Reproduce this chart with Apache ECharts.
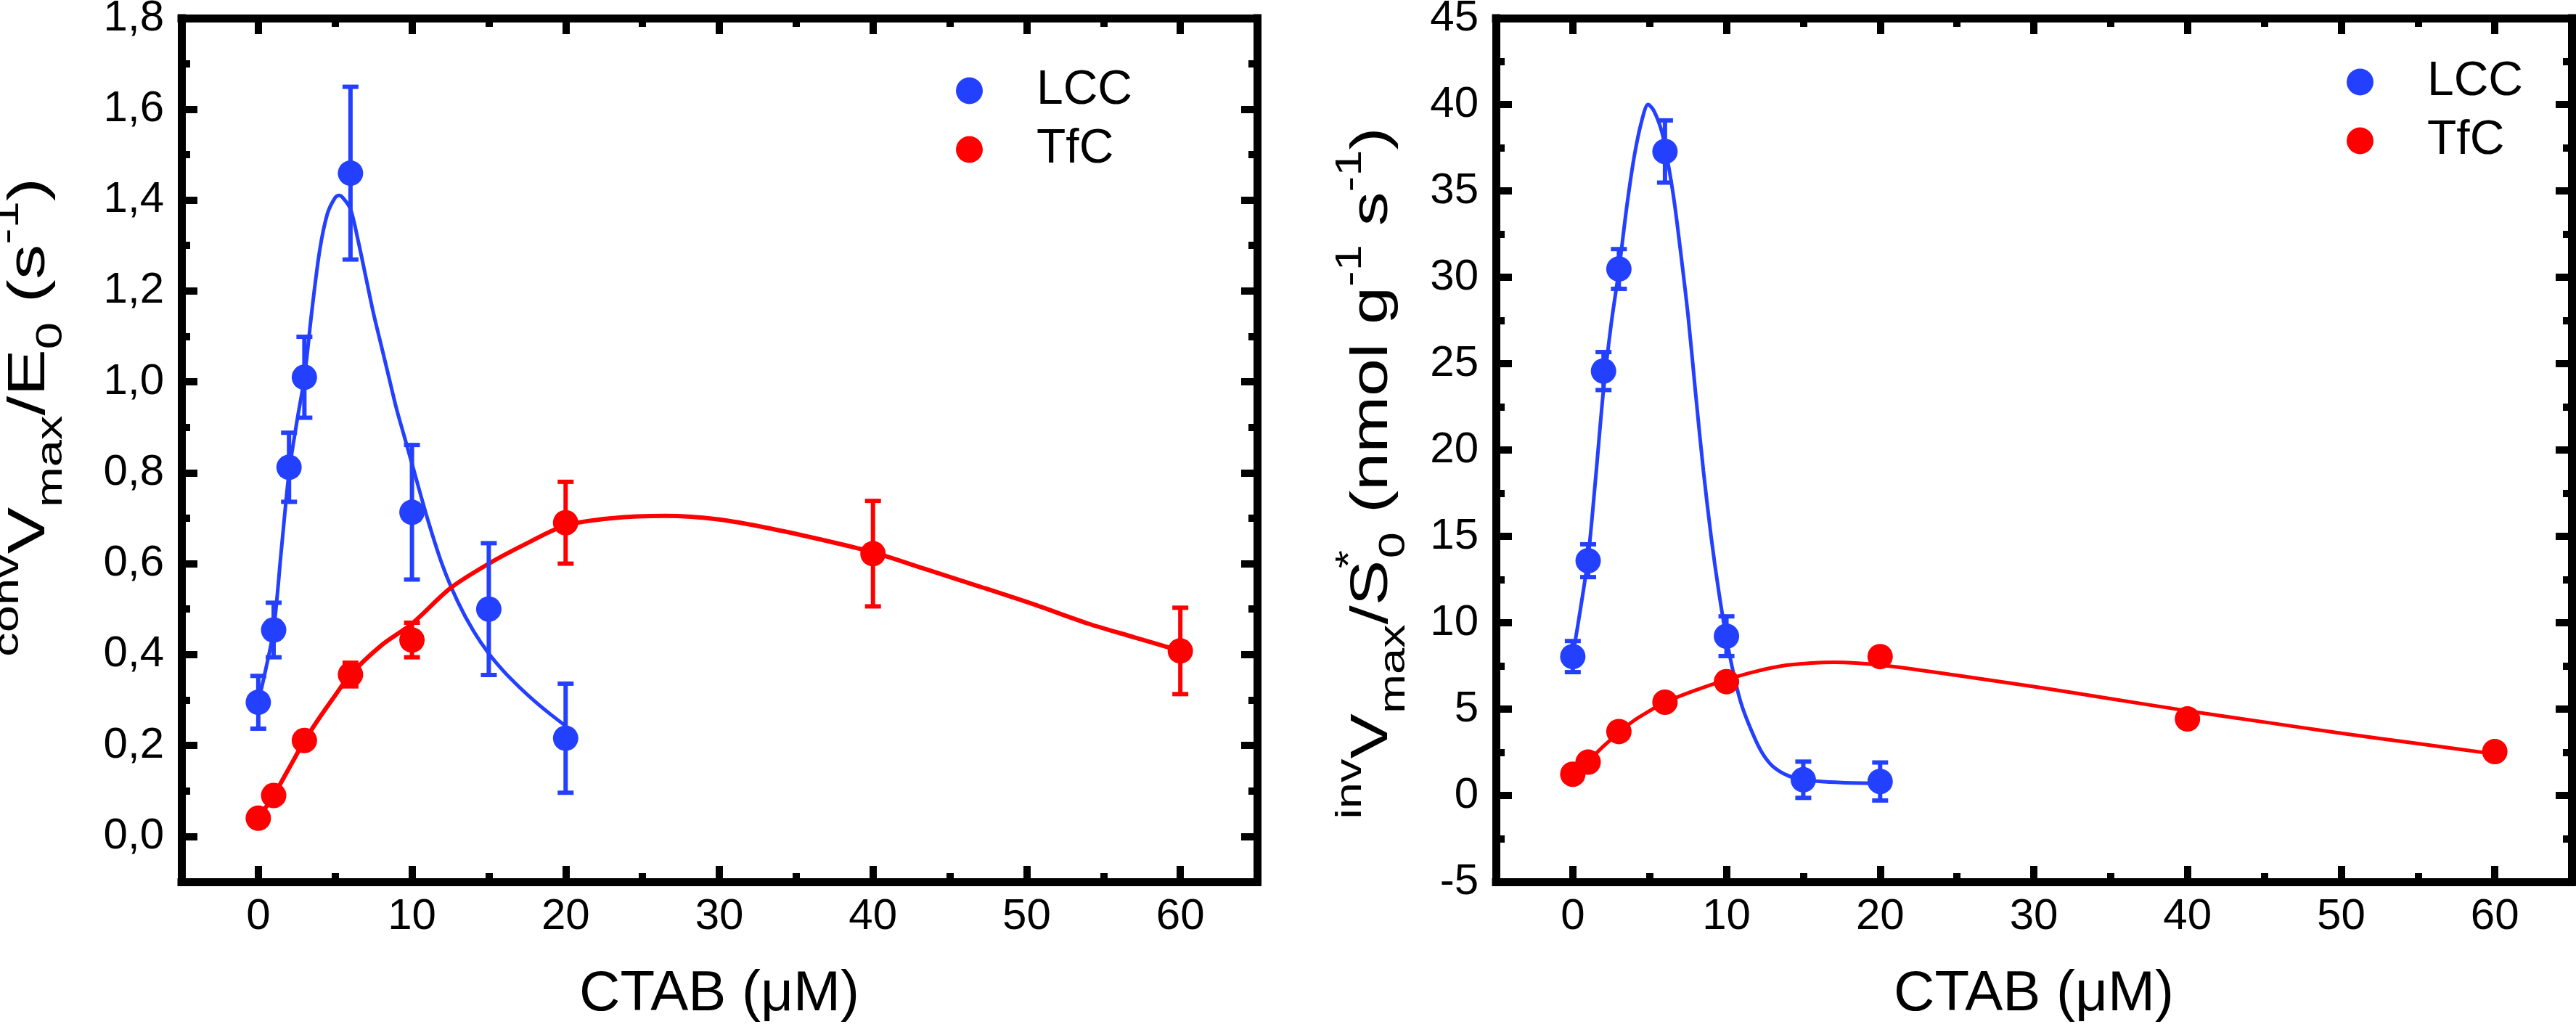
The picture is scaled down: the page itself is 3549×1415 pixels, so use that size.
<!DOCTYPE html>
<html>
<head>
<meta charset="utf-8">
<title>CTAB – LCC / TfC</title>
<script src="https://cdn.jsdelivr.net/npm/echarts@6.0.0/dist/echarts.min.js"></script>
<style>
  html, body { margin: 0; padding: 0; background: #fff; }
  #chart { width: 3549px; height: 1415px; }
</style>
</head>
<body>
<div id="chart"></div>
<script>
// ---- data ----
const ctabLCC = [0, 1, 2, 3, 6, 10, 15, 20];
const ctabTfC = [0, 1, 3, 6, 10, 20, 40, 60];

// left panel: convVmax/E0 (s-1)
const convLCC = [0.295, 0.454, 0.812, 1.010, 1.459, 0.713, 0.500, 0.216];
const convLCCErr = [0.058, 0.060, 0.076, 0.089, 0.190, 0.148, 0.145, 0.120];
const convTfC = [0.040, 0.090, 0.211, 0.356, 0.432, 0.690, 0.622, 0.408];
const convTfCErr = [0, 0, 0, 0.026, 0.038, 0.090, 0.116, 0.095];

// right panel: invVmax/S*0 (nmol g-1 s-1)
const invLCC = [8.04, 13.59, 24.57, 30.48, 37.28, 9.22, 0.91, 0.81];
const invLCCErr = [0.90, 0.95, 1.10, 1.15, 1.80, 1.15, 1.05, 1.10];
const invTfC = [1.23, 1.93, 3.70, 5.40, 6.59, 8.04, 4.43, 2.54];

// fitted curves
const convFitLCCx = [0, 0.5, 1, 1.5, 2, 2.5, 3, 3.5, 4, 4.5, 5, 5.25, 5.5, 6, 6.5, 7, 7.5, 8, 8.5, 9, 9.5, 10, 11, 12, 13, 14, 15, 16, 17, 18, 19, 20];
const convFitLCCy = [0.295, 0.37, 0.455, 0.63, 0.80, 0.91, 1.01, 1.16, 1.29, 1.37, 1.405, 1.41, 1.405, 1.38, 1.31, 1.23, 1.15, 1.08, 1.01, 0.94, 0.88, 0.82, 0.70, 0.595, 0.515, 0.452, 0.402, 0.362, 0.328, 0.297, 0.269, 0.243];
const convFitTfCx = [0, 1, 2, 3, 4, 5, 6, 8, 10, 12.5, 15, 17.5, 20, 23, 26.5, 30, 33.5, 37, 40, 43.5, 47, 50.5, 54, 57, 60];
const convFitTfCy = [0.040, 0.090, 0.150, 0.210, 0.262, 0.310, 0.356, 0.420, 0.468, 0.546, 0.600, 0.645, 0.684, 0.700, 0.705, 0.697, 0.676, 0.650, 0.625, 0.587, 0.549, 0.510, 0.468, 0.438, 0.408];
const invFitLCCx = [0, 0.5, 1, 1.5, 2, 2.5, 3, 3.5, 4, 4.5, 4.9, 5.3, 5.8, 6.2, 6.6, 7, 7.5, 8, 8.5, 9, 9.5, 10, 10.5, 11, 11.7, 12.3, 13, 14, 15, 16, 17.5, 20];
const invFitLCCy = [8.1, 10.8, 13.8, 18.5, 23.5, 27.3, 30.4, 34.0, 37.0, 39.1, 40.0, 39.6, 38.4, 36.6, 34.4, 31.6, 27.8, 23.2, 18.8, 15.0, 11.8, 9.1, 6.9, 5.2, 3.6, 2.5, 1.7, 1.15, 0.92, 0.82, 0.75, 0.70];
const invFitTfCx = [0, 1, 2, 3, 4, 5, 6, 8, 10, 12, 14, 17, 20, 25, 30, 35, 40, 45, 50, 55, 60];
const invFitTfCy = [1.23, 2.0, 2.85, 3.65, 4.35, 4.9, 5.4, 6.1, 6.7, 7.2, 7.55, 7.71, 7.55, 6.95, 6.3, 5.6, 4.9, 4.25, 3.6, 3.0, 2.4];

// tick positions
const xMajor = [0, 10, 20, 30, 40, 50, 60];
const xMinor = [5, 15, 25, 35, 45, 55];
const convMajor = [0, 0.2, 0.4, 0.6, 0.8, 1.0, 1.2, 1.4, 1.6, 1.8];
const convMinor = [0.1, 0.3, 0.5, 0.7, 0.9, 1.1, 1.3, 1.5, 1.7];
const invMajor = [-5, 0, 5, 10, 15, 20, 25, 30, 35, 40, 45];
const invMinor = [-2.5, 2.5, 7.5, 12.5, 17.5, 22.5, 27.5, 32.5, 37.5, 42.5];

const BLUE = "#2340ff";
const RED = "#ff0000";
const FONT = "'Liberation Sans', Arial, sans-serif";

const zip = (xs, ys) => xs.map((x, i) => [x, ys[i]]);
const withErr = (xs, ys, es) =>
  xs.map((x, i) => [x, ys[i] - es[i], ys[i] + es[i]]).filter((d, i) => es[i] > 0);

// one axis of the frame; major axes carry the line, minor ones only short ticks
function frameAxis(gridIndex, position, min, max, ticks, major, extra) {
  return Object.assign({
    type: "value",
    gridIndex,
    position,
    min,
    max,
    axisLine: {
      show: major,
      onZero: false,
      lineStyle: { color: "#000", width: 11, cap: "square" },
    },
    axisTick: {
      show: true,
      inside: true,
      length: major ? 22 : 12,
      customValues: ticks,
      lineStyle: { color: "#000", width: 10 },
    },
    axisLabel: { show: false },
    splitLine: { show: false },
  }, extra || {});
}

function xAxes(gridIndex) {
  return [
    frameAxis(gridIndex, "bottom", -5, 65, xMajor, true, {
      axisLabel: {
        show: true,
        customValues: xMajor,
        margin: 18,
        fontSize: 60,
        fontFamily: FONT,
        color: "#000",
      },
      name: "CTAB (μM)",
      nameLocation: "middle",
      nameGap: 116,
      nameTextStyle: { fontSize: 78, fontFamily: FONT, color: "#000" },
    }),
    frameAxis(gridIndex, "bottom", -5, 65, xMinor, false),
    frameAxis(gridIndex, "top", -5, 65, xMajor, true),
    frameAxis(gridIndex, "top", -5, 65, xMinor, false),
  ];
}

function yAxes(gridIndex, min, max, major, minor, fmt) {
  return [
    frameAxis(gridIndex, "left", min, max, major, true, {
      axisLabel: {
        show: true,
        customValues: major,
        margin: 24,
        fontSize: 60,
        fontFamily: FONT,
        color: "#000",
        formatter: fmt,
      },
    }),
    frameAxis(gridIndex, "left", min, max, minor, false),
    frameAxis(gridIndex, "right", min, max, major, true),
    frameAxis(gridIndex, "right", min, max, minor, false),
  ];
}

const errBars = (name, data, color, xi, yi) => ({
  name,
  type: "custom",
  xAxisIndex: xi,
  yAxisIndex: yi,
  z: 3,
  encode: { x: 0, y: [1, 2] },
  data,
  renderItem(params, api) {
    const lo = api.coord([api.value(0), api.value(1)]);
    const hi = api.coord([api.value(0), api.value(2)]);
    const hw = 11;
    const st = { stroke: color, lineWidth: 6 };
    return {
      type: "group",
      children: [
        { type: "line", shape: { x1: lo[0], y1: lo[1], x2: hi[0], y2: hi[1] }, style: st },
        { type: "line", shape: { x1: lo[0] - hw, y1: lo[1], x2: lo[0] + hw, y2: lo[1] }, style: st },
        { type: "line", shape: { x1: hi[0] - hw, y1: hi[1], x2: hi[0] + hw, y2: hi[1] }, style: st },
      ],
    };
  },
});

const fitLine = (name, data, color, width, xi, yi) => ({
  name,
  type: "line",
  xAxisIndex: xi,
  yAxisIndex: yi,
  z: 2,
  data,
  smooth: 0.3,
  showSymbol: false,
  symbol: "none",
  lineStyle: { color, width },
});

const points = (name, data, color, xi, yi) => ({
  name,
  type: "scatter",
  xAxisIndex: xi,
  yAxisIndex: yi,
  z: 4,
  data,
  symbol: "circle",
  symbolSize: 35,
  itemStyle: { color, opacity: 1 },
});

// axis titles with super/subscripts
const supRich = {
  big: { fontSize: 72, fontFamily: FONT, lineHeight: 110, verticalAlign: "middle", fill: "#000", color: "#000" },
  sup: { fontSize: 50, fontFamily: FONT, lineHeight: 25, verticalAlign: "top", fill: "#000", color: "#000" },
  star: { fontSize: 50, fontFamily: FONT, lineHeight: 25, verticalAlign: "top", width: 2, fill: "#000", color: "#000" },
  sub: { fontSize: 50, fontFamily: FONT, lineHeight: 55, verticalAlign: "bottom", fill: "#000", color: "#000" },
};

const legendBase = {
  data: ["LCC", "TfC"],
  orient: "vertical",
  icon: "circle",
  itemWidth: 37,
  itemHeight: 37,
  itemGap: 15,
  padding: 0,
  selectedMode: false,
  formatter: (name) => `{t|${name}}`,
  textStyle: {
    fontSize: 66,
    fontFamily: FONT,
    color: "#000",
    rich: {
      t: { fontSize: 66, lineHeight: 66, fontFamily: FONT, color: "#000", padding: [0, 0, 0, 69] },
    },
  },
};

const chart = echarts.init(document.getElementById("chart"), null, { renderer: "canvas" });

chart.setOption({
  animation: false,
  backgroundColor: "#fff",
  grid: [
    { left: 250, top: 25, width: 1482, height: 1190, containLabel: false, outerBoundsMode: "none" },
    { left: 2061, top: 25, width: 1482, height: 1190, containLabel: false, outerBoundsMode: "none" },
  ],
  xAxis: [...xAxes(0), ...xAxes(1)],
  yAxis: [
    ...yAxes(0, -0.1, 1.8, convMajor, convMinor, (v) => v.toFixed(1).replace(".", ",")),
    ...yAxes(1, -5, 45, invMajor, invMinor, (v) => String(v)),
  ],
  legend: [
    Object.assign({ left: 1317, top: 92 }, legendBase),
    Object.assign({ left: 3233, top: 80 }, legendBase),
  ],
  graphic: [
    {
      type: "text",
      x: 41,
      y: 575,
      rotation: Math.PI / 2,
      scaleX: 1.34,
      style: {
        text: "{sup|conv}{big|V}{sub|max}{big|/E}{sub|0}{big| (s}{sup|-1}{big|)}",
        rich: supRich,
        align: "center",
        verticalAlign: "middle",
      },
    },
    {
      type: "text",
      x: 1891,
      y: 652,
      rotation: Math.PI / 2,
      scaleX: 1.3,
      style: {
        text: "{sup|inv}{big|V}{sub|max}{big|/S}{star|*}{sub|0}{big| (nmol g}{sup|-1}{big| s}{sup|-1}{big|)}",
        rich: supRich,
        align: "center",
        verticalAlign: "middle",
      },
    },
  ],
  series: [
    // left panel
    fitLine("LCC fit", zip(convFitLCCx, convFitLCCy), BLUE, 5, 0, 0),
    fitLine("TfC fit", zip(convFitTfCx, convFitTfCy), RED, 6, 0, 0),
    errBars("LCC err", withErr(ctabLCC, convLCC, convLCCErr), BLUE, 0, 0),
    errBars("TfC err", withErr(ctabTfC, convTfC, convTfCErr), RED, 0, 0),
    points("LCC", zip(ctabLCC, convLCC), BLUE, 0, 0),
    points("TfC", zip(ctabTfC, convTfC), RED, 0, 0),
    // right panel
    fitLine("LCC fit", zip(invFitLCCx, invFitLCCy), BLUE, 5, 4, 4),
    fitLine("TfC fit", zip(invFitTfCx, invFitTfCy), RED, 5, 4, 4),
    errBars("LCC err", withErr(ctabLCC, invLCC, invLCCErr), BLUE, 4, 4),
    points("LCC", zip(ctabLCC, invLCC), BLUE, 4, 4),
    points("TfC", zip(ctabTfC, invTfC), RED, 4, 4),
  ],
});

window.addEventListener("resize", () => chart.resize());
</script>
</body>
</html>
